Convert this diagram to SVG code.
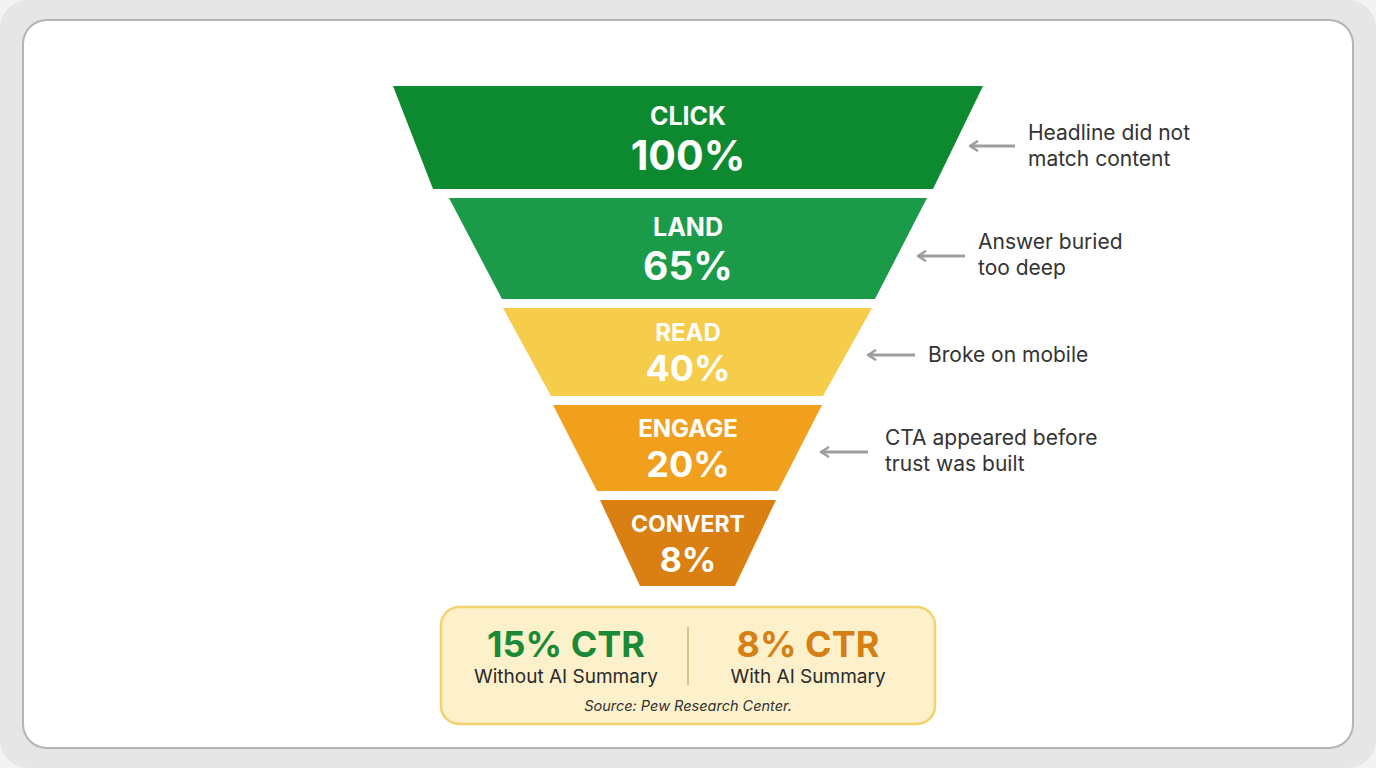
<svg xmlns="http://www.w3.org/2000/svg" width="1376" height="768" viewBox="0 0 1376 768">
<defs>
<style>
.lbl{font-family:Inter,"Liberation Sans",sans-serif;font-weight:700;fill:#ffffff;text-anchor:middle}
.stage{font-size:25px}
.note{font-family:Inter,"Liberation Sans",sans-serif;font-size:21px;fill:#333333}
.arr{stroke:#9e9e9e;stroke-width:3;fill:none}
.big{font-family:Inter,"Liberation Sans",sans-serif;font-weight:700;font-size:36px;text-anchor:middle}
.sub{font-family:Inter,"Liberation Sans",sans-serif;font-size:19px;fill:#2a2a2a;text-anchor:middle}
</style>
<marker id="ah" viewBox="0 0 10 12" refX="8.5" refY="6" markerWidth="3.4" markerHeight="4.2" orient="auto" markerUnits="strokeWidth">
<path d="M1.5,1.5 L8.5,6 L1.5,10.5" fill="none" stroke="#9e9e9e" stroke-width="2.4" stroke-linecap="round" stroke-linejoin="round"/>
</marker>
</defs>
<rect x="0" y="0" width="1376" height="768" fill="#f3f3f3"/>
<rect x="0" y="0" width="1376" height="768" rx="28" fill="#e6e6e6"/>
<rect x="23" y="20" width="1330" height="728" rx="24" fill="#ffffff" stroke="#b4b4b4" stroke-width="2"/>

<g id="click">
<polygon points="393,86 983,86 933,189 433,189" fill="#0d8a2f"/>
<text class="lbl stage" x="688" y="125">CLICK</text>
<text class="lbl" font-size="41" x="688" y="170">100%</text>
</g>
<g id="land">
<polygon points="449,198 927,198 875,299 502,299" fill="#1b9b49"/>
<text class="lbl stage" x="688" y="236">LAND</text>
<text class="lbl" font-size="39" x="688" y="280">65%</text>
</g>
<g id="read">
<polygon points="503,308 872,308 823,396 551,396" fill="#f6cc4b"/>
<text class="lbl" font-size="24" x="688" y="341">READ</text>
<text class="lbl" font-size="36" x="688" y="381">40%</text>
</g>
<g id="engage">
<polygon points="553,405 822,405 778,491 597,491" fill="#f0a01c"/>
<text class="lbl" font-size="24" x="688" y="437">ENGAGE</text>
<text class="lbl" font-size="36" x="688" y="477">20%</text>
</g>
<g id="convert">
<polygon points="600,500 776,500 735,586 640,586" fill="#da7f12"/>
<text class="lbl" font-size="23" x="688" y="532">CONVERT</text>
<text class="lbl" font-size="34" x="688" y="572">8%</text>
</g>

<g id="connectors">
<line class="arr" x1="1015" y1="146" x2="970" y2="146" marker-end="url(#ah)"/>
<line class="arr" x1="965" y1="256" x2="918" y2="256" marker-end="url(#ah)"/>
<line class="arr" x1="915" y1="355" x2="868" y2="355" marker-end="url(#ah)"/>
<line class="arr" x1="868" y1="452" x2="821" y2="452" marker-end="url(#ah)"/>
</g>

<g id="note1">
<text class="note" x="1028" y="140">Headline did not</text>
<text class="note" x="1028" y="166">match content</text>
</g>
<g id="note2">
<text class="note" x="978" y="249">Answer buried</text>
<text class="note" x="978" y="275">too deep</text>
</g>
<g id="note3">
<text class="note" x="928" y="362">Broke on mobile</text>
</g>
<g id="note4">
<text class="note" x="885" y="445">CTA appeared before</text>
<text class="note" x="885" y="471">trust was built</text>
</g>

<g id="summary">
<rect x="441" y="607" width="494" height="117" rx="18" fill="#fdf1cb" stroke="#f2d36e" stroke-width="2.5"/>
<line x1="688" y1="627" x2="688" y2="685" stroke="#c9b27a" stroke-width="1.5"/>
<text class="big" x="566" y="657" fill="#1a8a36">15% CTR</text>
<text class="sub" x="566" y="683">Without AI Summary</text>
<text class="big" x="808" y="657" fill="#d67f14">8% CTR</text>
<text class="sub" x="808" y="683">With AI Summary</text>
<text x="688" y="711" font-family="Inter,'Liberation Sans',sans-serif" font-size="14.5" font-style="italic" fill="#333333" text-anchor="middle">Source: Pew Research Center.</text>
</g>
</svg>
